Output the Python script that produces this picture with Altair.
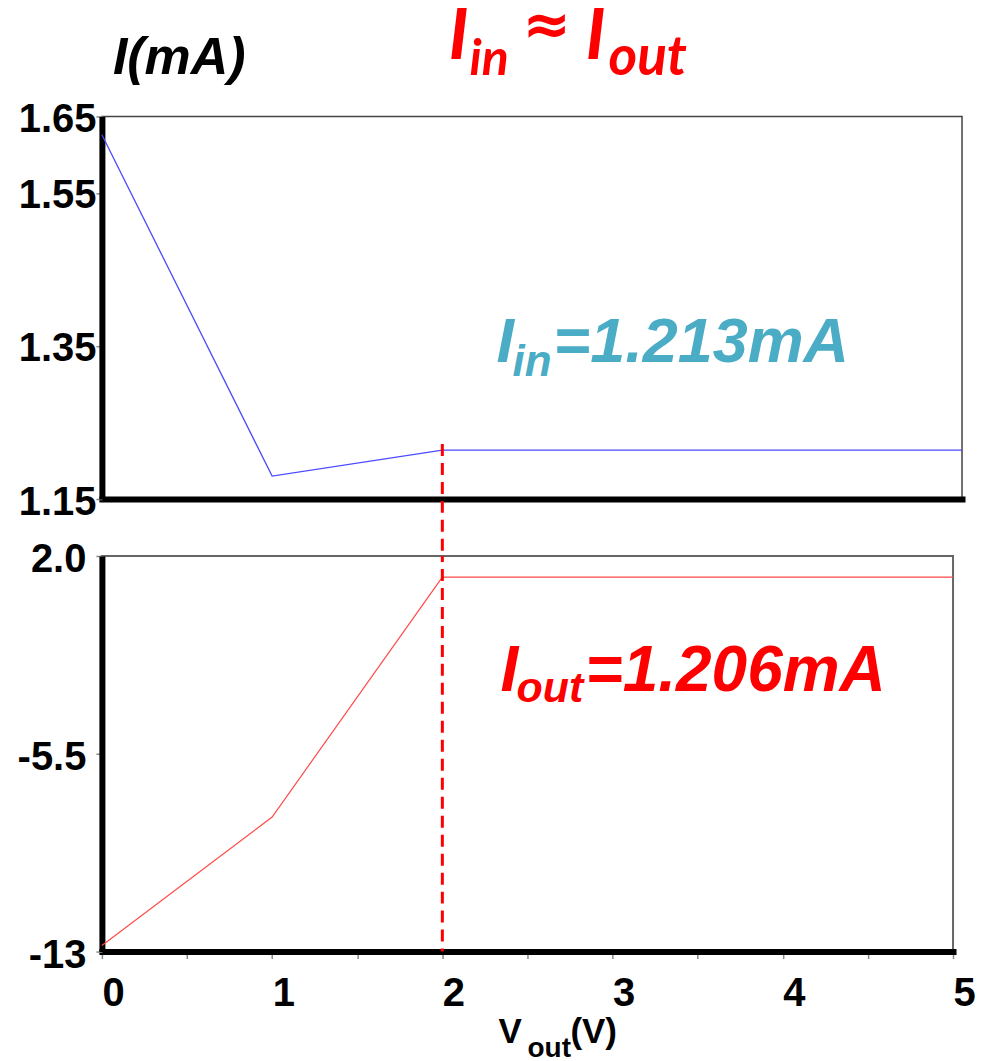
import altair as alt
import pandas as pd

# ---- data ----
v_in = [0, 1, 2, 5.053]
i_in = [1.626, 1.180, 1.214, 1.214]
v_out = [0, 1, 2, 5]
i_out = [-12.77, -7.9, 1.2, 1.2]

top_y_ticks = [1.15, 1.35, 1.55, 1.65]
top_y_labels = ["1.15", "1.35", "1.55", "1.65"]
bot_y_ticks = [-13, -5.5, 2.0]
bot_y_labels = ["-13", "-5.5", "2.0"]
x_ticks = [0, 0.5, 1, 1.5, 2, 2.5, 3, 3.5, 4, 4.5, 5]
x_labels = ["0", "", "1", "", "2", "", "3", "", "4", "", "5"]

marker_v = [2]
marker_top_start = [1.222]
marker_bot = [2.0]
marker_bot_end = [-13]

TOP_W, TOP_H = 861, 383
BOT_W, BOT_H = 852, 396
GAP = 57

AX_FONT = "Liberation Sans"
RED = "#ff0000"
TEAL = "#4bacc6"


def label_expr(ticks, labels):
    expr = "''"
    for t, l in reversed(list(zip(ticks, labels))):
        expr = f"(abs(datum.value - ({t})) < 1e-6) ? '{l}' : ({expr})"
    return expr


def txt(s, x, y, size, color, font=AX_FONT, italic=True, weight="bold"):
    return alt.Chart(pd.DataFrame({"t": [s]})).mark_text(
        align="left", baseline="alphabetic", font=font, fontSize=size,
        fontWeight=weight, fontStyle="italic" if italic else "normal",
        color=color,
    ).encode(text="t:N", x=alt.value(x), y=alt.value(y))


# ---------------- top panel ----------------
df_in = pd.DataFrame({"v": v_in, "i": i_in})
x_top = alt.X("v:Q", scale=alt.Scale(domain=[0, 5.053], nice=False, zero=False),
              axis=alt.Axis(labels=False, ticks=False, grid=False, domainColor="black",
                            domainWidth=6, domainCap="square", title=None))
y_top = alt.Y("i:Q", scale=alt.Scale(domain=[1.15, 1.65], nice=False, zero=False),
              axis=alt.Axis(values=top_y_ticks, labelExpr=label_expr(top_y_ticks, top_y_labels),
                            grid=False, domainColor="black", domainWidth=6,
                            tickColor="#888888", tickWidth=1.5, tickSize=6, labelPadding=0,
                            labelFont=AX_FONT, labelFontSize=40, labelFontWeight="bold",
                            labelColor="black", labelOffset=3, title=None))

line_top = alt.Chart(df_in).mark_line(color="#4a4aff", strokeWidth=1.3).encode(x=x_top, y=y_top)

rule_top = alt.Chart(pd.DataFrame({"v": marker_v, "i": marker_top_start})).mark_rule(
    color=RED, strokeWidth=3, strokeDash=[12, 7]
).encode(x="v:Q", y="i:Q", y2=alt.value(TOP_H + GAP))

top = alt.layer(
    line_top,
    rule_top,
    txt("I(mA)", 11, -42, 52, "black"),
    txt("I", 347, -57, 72, RED, font="Lato"),
    txt("in", 368, -41, 50, RED, font="Lato"),
    txt("\u2248", 421, -73, 58, RED, font="DejaVu Sans", italic=False),
    txt("I", 484, -57, 72, RED, font="Lato"),
    txt("out", 507, -41, 55, RED, font="Lato"),
    txt("I", 395, 246, 63, TEAL),
    txt("in", 411, 260, 44, TEAL),
    txt("=1.213mA", 452, 246, 63, TEAL),
).properties(width=TOP_W, height=TOP_H,
             view=alt.ViewBackground(stroke="#444444", strokeWidth=1.5))

# ---------------- bottom panel ----------------
df_out = pd.DataFrame({"v": v_out, "i": i_out})
x_bot = alt.X("v:Q", scale=alt.Scale(domain=[0, 5], nice=False, zero=False),
              axis=alt.Axis(values=x_ticks, labelExpr=label_expr(x_ticks, x_labels),
                            grid=False, domainColor="black", domainWidth=6, domainCap="square",
                            tickColor="#888888", tickWidth=1.5, tickSize=7,
                            labelAlign="left", labelBaseline="top", labelPadding=15,
                            labelFlush=False, labelOverlap=False, labelBound=False,
                            labelFont=AX_FONT, labelFontSize=40, labelFontWeight="bold",
                            labelColor="black", title=None))
y_bot = alt.Y("i:Q", scale=alt.Scale(domain=[-13, 2], nice=False, zero=False),
              axis=alt.Axis(values=bot_y_ticks, labelExpr=label_expr(bot_y_ticks, bot_y_labels),
                            grid=False, domainColor="black", domainWidth=6,
                            tickColor="#888888", tickWidth=1.5, tickSize=6, labelPadding=10,
                            labelFont=AX_FONT, labelFontSize=40, labelFontWeight="bold",
                            labelColor="black", labelOffset=4, title=None))

line_bot = alt.Chart(df_out).mark_line(color="#ff4a4a", strokeWidth=1.2).encode(x=x_bot, y=y_bot)

rule_bot = alt.Chart(pd.DataFrame({"v": marker_v, "i": marker_bot, "i2": marker_bot_end})).mark_rule(
    color=RED, strokeWidth=3, strokeDash=[12, 7], strokeDashOffset=6
).encode(x="v:Q", y="i:Q", y2="i2:Q")

bottom = alt.layer(
    line_bot,
    rule_bot,
    txt("I", 399, 135, 64, RED),
    txt("out", 415, 146, 43, RED),
    txt("=1.206mA", 484, 135, 64, RED),
    txt("V", 397, 488, 35, "black", italic=False),
    txt("out", 426, 502, 28, "black", italic=False),
    txt("(V)", 469, 488, 35, "black", italic=False),
).properties(width=BOT_W, height=BOT_H,
             view=alt.ViewBackground(stroke="#666666", strokeWidth=2))

chart = alt.vconcat(top, bottom, spacing=GAP, bounds="flush").properties(
    padding={"left": 8, "top": -12, "right": 0, "bottom": 0},
    background="white",
)

chart.save("out.html", embed_options={"renderer": "svg", "actions": False})
